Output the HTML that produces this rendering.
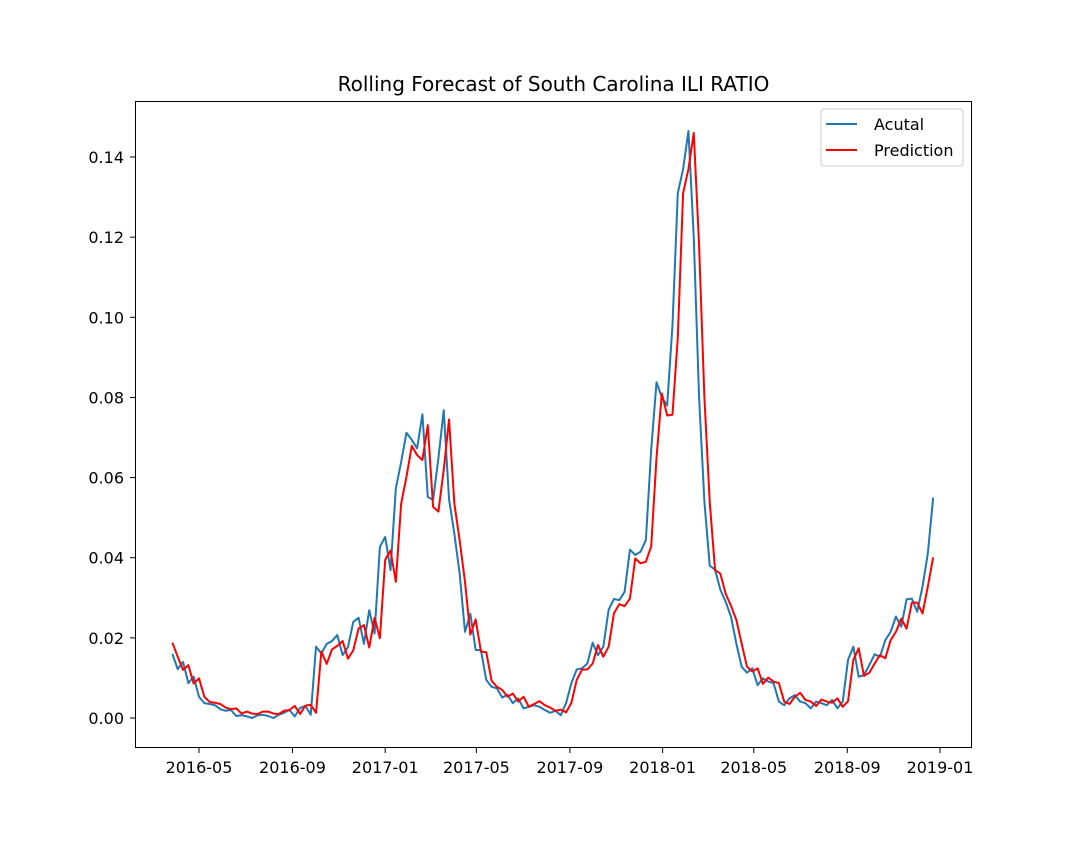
<!DOCTYPE html>
<html><head><meta charset="utf-8"><style>
body{margin:0;background:#fff}
svg text{font-family:"DejaVu Sans","Liberation Sans",sans-serif;fill:#000}
</style></head><body>
<svg id="chart" width="1080" height="840" xmlns="http://www.w3.org/2000/svg">
<rect x="0" y="0" width="1080" height="840" fill="#fff"/>
<text x="553.5" y="91" font-size="20" text-anchor="middle">Rolling Forecast of South Carolina ILI RATIO</text>
<g id="xticks"></g>
<g id="yticks"></g>
<g id="series"></g>
<rect x="135.5" y="101.5" width="836" height="646" fill="none" stroke="#000" stroke-width="1"/>
<g>
<rect x="821" y="109" width="142" height="57" rx="3" fill="#fff" fill-opacity="0.8" stroke="#ccc"/>
<g><line x1="826" y1="124" x2="857" y2="124" stroke="#1f77b4" stroke-width="2"/><text x="874" y="130" font-size="16">Acutal</text></g>
<g><line x1="826" y1="150" x2="857" y2="150" stroke="#ff0000" stroke-width="2"/><text x="874" y="156" font-size="16">Prediction</text></g>
</g>
</svg>
<script>
const startDate = "2016-03-27";
const actual = [.016,.0122,.014,.0087,.0103,.0053,.0037,.0035,.0032,.0022,.0018,.002,.0005,.0007,.0004,.0,.0007,.0008,.0005,.0,.0008,.0013,.002,.0004,.0025,.003,.0008,.0178,.0161,.0185,.0192,.0207,.0157,.0177,.024,.025,.0185,.0269,.0211,.0427,.0452,.0369,.0573,.0639,.0712,.0694,.0673,.0758,.0552,.0544,.0648,.0768,.0546,.046,.036,.0215,.026,.017,.0169,.0095,.0078,.0074,.0051,.0058,.0037,.0049,.0024,.0028,.0032,.0028,.002,.0013,.0018,.0007,.0037,.0087,.0121,.0124,.0136,.0188,.0157,.0178,.027,.0297,.0294,.0315,.042,.0407,.0415,.0444,.067,.0838,.080,.078,.098,.131,.137,.1465,.120,.080,.054,.038,.037,.032,.029,.0253,.0186,.0128,.0113,.0124,.0082,.0099,.0091,.0087,.0041,.0032,.0049,.0057,.0041,.0037,.0024,.0041,.0037,.0032,.0045,.0024,.0041,.0145,.0178,.0103,.0107,.0132,.0159,.0153,.0194,.0215,.0253,.0228,.0296,.0298,.0265,.0328,.0411,.055];
const prediction = [.0188,.0153,.012,.0132,.0086,.0099,.0053,.004,.0038,.0035,.0026,.0022,.0024,.0011,.0016,.0011,.001,.0016,.0016,.0011,.001,.0018,.002,.003,.001,.0031,.0033,.0013,.0166,.0135,.0171,.018,.0192,.0148,.0169,.0223,.0232,.0176,.025,.0199,.0395,.0418,.034,.0535,.0602,.0679,.0656,.0644,.0731,.0527,.0515,.0619,.0745,.0535,.0443,.034,.0208,.0246,.0166,.0164,.0093,.0078,.007,.0053,.0061,.0041,.0053,.0028,.0035,.0042,.0032,.0026,.0018,.0021,.0014,.0038,.0095,.0121,.0121,.0136,.0182,.0153,.0178,.0261,.0284,.0279,.0298,.0398,.0386,.039,.0428,.065,.081,.0755,.0757,.095,.131,.137,.146,.118,.080,.054,.037,.036,.031,.028,.0245,.0186,.0128,.0116,.0124,.0085,.0101,.0091,.0087,.0041,.0035,.0053,.0063,.0045,.0041,.003,.0046,.0041,.0038,.0049,.0028,.0042,.0145,.0174,.0105,.0113,.0136,.0157,.0149,.0194,.0215,.0248,.0223,.0288,.0288,.0261,.0328,.0401];
const xTickLabels = ["2016-05","2016-09","2017-01","2017-05","2017-09","2018-01","2018-05","2018-09","2019-01"];
const yTickValues = [0,0.02,0.04,0.06,0.08,0.10,0.12,0.14];

const NS="http://www.w3.org/2000/svg";
const DAY=86400000;
const ref=Date.UTC(2016,4,1);
function xScale(t){return 199+(t-ref)/DAY*(741/975);}
function yScale(v){return 718-v*4007;}
function dateAt(i){const p=startDate.split("-");return Date.UTC(+p[0],+p[1]-1,+p[2])+i*7*DAY;}

const xg=document.getElementById("xticks");
xTickLabels.forEach(function(lbl){
  const p=lbl.split("-");const x=xScale(Date.UTC(+p[0],+p[1]-1,1));
  const ln=document.createElementNS(NS,"line");
  
  
  ln.setAttribute("x1",x);ln.setAttribute("x2",x);ln.setAttribute("y1",748);ln.setAttribute("y2",753);ln.setAttribute("stroke","#000");
  xg.appendChild(ln);
  const t=document.createElementNS(NS,"text");
  
  
  t.setAttribute("x",x);t.setAttribute("y",773);t.setAttribute("font-size","16");t.setAttribute("text-anchor","middle");
  t.textContent=lbl;xg.appendChild(t);
});
const yg=document.getElementById("yticks");
yTickValues.forEach(function(v){
  const y=yScale(v);
  const ln=document.createElementNS(NS,"line");
  
  
  ln.setAttribute("x1",130);ln.setAttribute("x2",135);ln.setAttribute("y1",y);ln.setAttribute("y2",y);ln.setAttribute("stroke","#000");
  yg.appendChild(ln);
  const t=document.createElementNS(NS,"text");
  
  
  t.setAttribute("x",124);t.setAttribute("y",y+6);t.setAttribute("font-size","16");t.setAttribute("text-anchor","end");
  t.textContent=v.toFixed(2);yg.appendChild(t);
});
const sg=document.getElementById("series");
function drawLine(arr,color,name){
  const pts=arr.map(function(v,i){return xScale(dateAt(i)).toFixed(2)+","+yScale(v).toFixed(2);}).join(" ");
  const pl=document.createElementNS(NS,"polyline");
  
  
  pl.setAttribute("points",pts);pl.setAttribute("fill","none");pl.setAttribute("stroke",color);
  pl.setAttribute("stroke-width","2");pl.setAttribute("stroke-linejoin","round");
  sg.appendChild(pl);
}
drawLine(actual,"#1f77b4","actual-line");
drawLine(prediction,"#ff0000","prediction-line");
</script>
</body></html>
